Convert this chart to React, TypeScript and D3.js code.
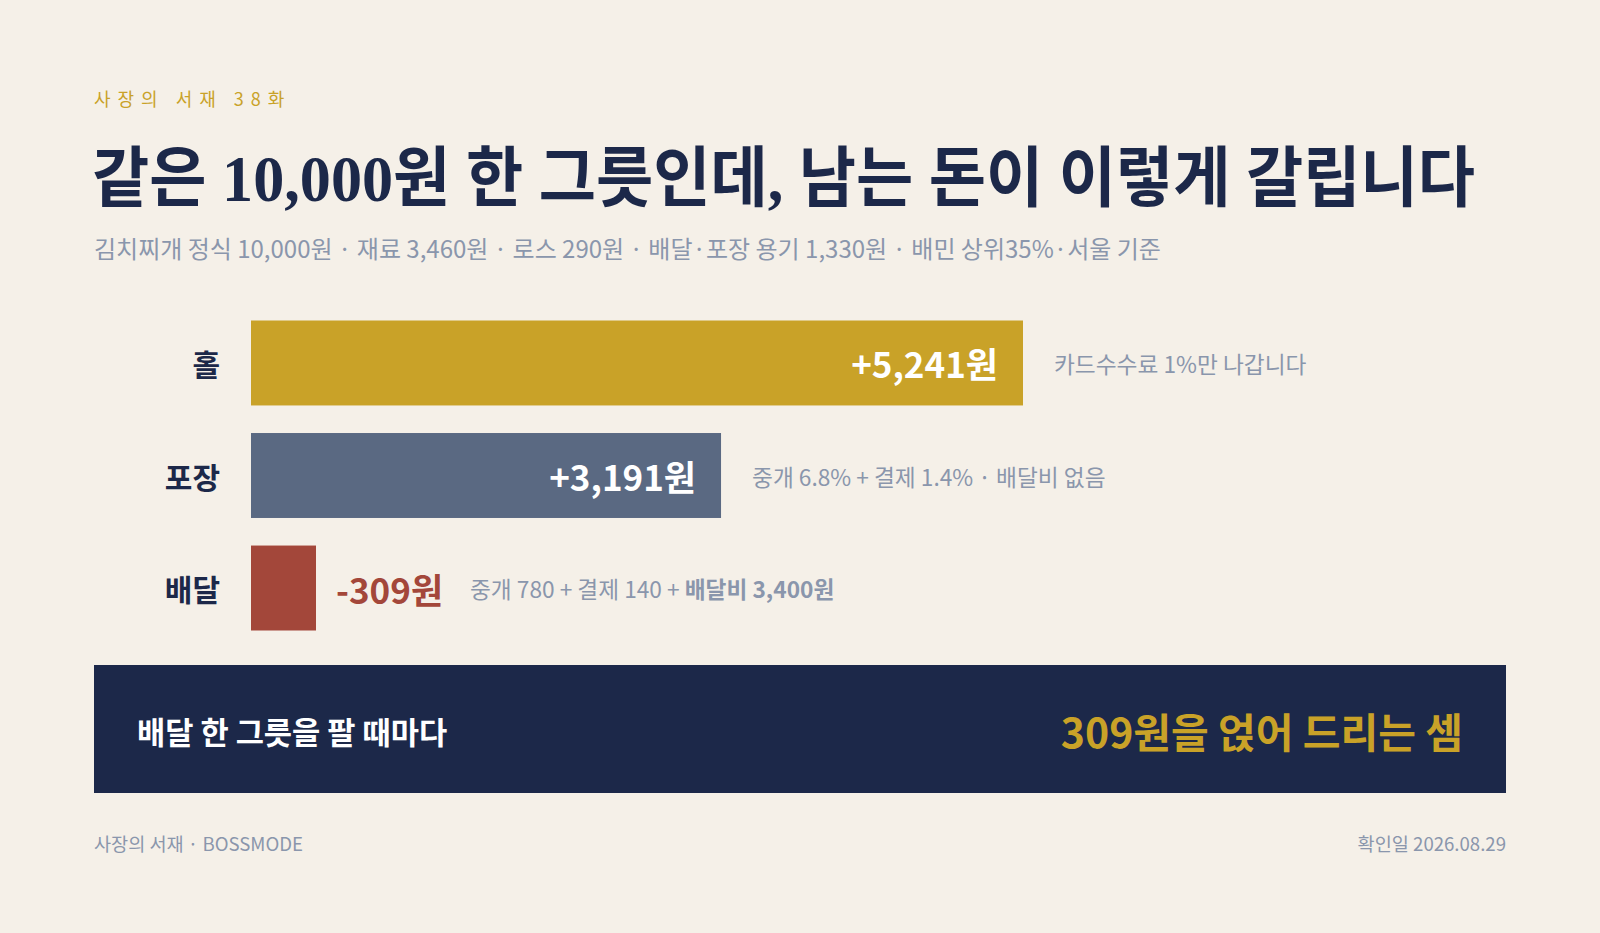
import React from "react";
import * as d3 from "d3";

const W = 1600;
const H = 933;

const eyebrow = "사장의 서재 38화";
const title = "같은 10,000원 한 그릇인데, 남는 돈이 이렇게 갈립니다";
const subtitle = "김치찌개 정식 10,000원 · 재료 3,460원 · 로스 290원 · 배달·포장 용기 1,330원 · 배민 상위35%·서울 기준";

const channels = ["홀", "포장", "배달"];
const profits = [5241, 3191, -309];
const valueLabels = ["+5,241원", "+3,191원", "-309원"];
const notes = [
  [{ t: "카드수수료 1%만 나갑니다", b: false }],
  [{ t: "중개 6.8% + 결제 1.4% · 배달비 없음", b: false }],
  [
    { t: "중개 780 + 결제 140 + ", b: false },
    { t: "배달비 3,400원", b: true },
  ],
];
const barColors = ["#c9a228", "#5a6982", "#a3473a"];

const calloutLeft = "배달 한 그릇을 팔 때마다";
const calloutRight = "309원을 얹어 드리는 셈";
const footerLeft = "사장의 서재 · BOSSMODE";
const footerRight = "확인일 2026.08.29";

const SANS = "'Noto Sans CJK KR', 'Noto Sans', sans-serif";
const SERIF = "'Liberation Serif', 'DejaVu Serif', 'Noto Sans CJK KR', serif";
const NAVY = "#1c2849";
const GRAY = "#8a96ac";
const GOLD = "#c9a228";
const BG = "#f5f0e8";

export default function App() {
  const barX0 = 251;
  const x = d3.scaleLinear().domain([0, d3.max(profits) as number]).range([0, 772]);
  const y = d3
    .scaleBand<string>()
    .domain(channels)
    .range([307, 644])
    .paddingInner(0.245)
    .paddingOuter(0.12);
  const minW = 65;

  return (
    <div style={{ position: "absolute", left: 0, top: 0, width: W, height: H, background: BG }}>
      <svg width={W} height={H} style={{ display: "block" }}>
        <rect x={0} y={0} width={W} height={H} fill={BG} />
        <text x={94} y={106} fontFamily={SANS} fontSize={18} fill={GOLD} letterSpacing={7}>
          {eyebrow}
        </text>
        <text
          x={92}
          y={201}
          fontFamily={SERIF}
          fontWeight={700}
          fontSize={66}
          fill={NAVY}
          textLength={1383}
          lengthAdjust="spacingAndGlyphs"
        >
          {title}
        </text>
        <text x={94} y={258} fontFamily={SANS} fontSize={24} fill={GRAY}>
          {subtitle}
        </text>

        {channels.map((c, i) => {
          const v = profits[i];
          const w = Math.max(x(Math.abs(v)), minW);
          const y0 = y(c) as number;
          const bh = y.bandwidth();
          const cy = y0 + bh / 2;
          const inside = v > 0 && w > 200;
          const labelEnd = barX0 + w + 20 + 104;
          const noteX = inside ? barX0 + w + 31 : labelEnd + 30;
          return (
            <g key={c}>
              <text
                x={220}
                y={cy}
                textAnchor="end"
                dominantBaseline="central"
                fontFamily={SANS}
                fontWeight={700}
                fontSize={30}
                fill={NAVY}
              >
                {c}
              </text>
              <rect x={barX0} y={y0} width={w} height={bh} fill={barColors[i]} />
              {inside ? (
                <text
                  x={barX0 + w - 25}
                  y={cy}
                  textAnchor="end"
                  dominantBaseline="central"
                  fontFamily={SANS}
                  fontWeight={700}
                  fontSize={35}
                  fill="#ffffff"
                >
                  {valueLabels[i]}
                </text>
              ) : (
                <text
                  x={barX0 + w + 20}
                  y={cy}
                  dominantBaseline="central"
                  fontFamily={SANS}
                  fontWeight={700}
                  fontSize={35}
                  fill={barColors[i]}
                >
                  {valueLabels[i]}
                </text>
              )}
              <text x={noteX} y={cy} dominantBaseline="central" fontFamily={SANS} fontSize={22.7} fill={GRAY}>
                {notes[i].map((s, k) => (
                  <tspan key={k} fontWeight={s.b ? 700 : 400}>
                    {s.t}
                  </tspan>
                ))}
              </text>
            </g>
          );
        })}

        <rect x={94} y={665} width={1412} height={128} fill={NAVY} />
        <text
          x={137}
          y={730}
          dominantBaseline="central"
          fontFamily={SANS}
          fontWeight={700}
          fontSize={30.7}
          fill="#ffffff"
        >
          {calloutLeft}
        </text>
        <text
          x={1463}
          y={730}
          textAnchor="end"
          dominantBaseline="central"
          fontFamily={SANS}
          fontWeight={700}
          fontSize={41}
          fill={GOLD}
        >
          {calloutRight}
        </text>

        <text x={94} y={851} fontFamily={SANS} fontSize={18.6} fill={GRAY}>
          {footerLeft}
        </text>
        <text x={1506} y={851} textAnchor="end" fontFamily={SANS} fontSize={18.6} fill={GRAY}>
          {footerRight}
        </text>
      </svg>
    </div>
  );
}
